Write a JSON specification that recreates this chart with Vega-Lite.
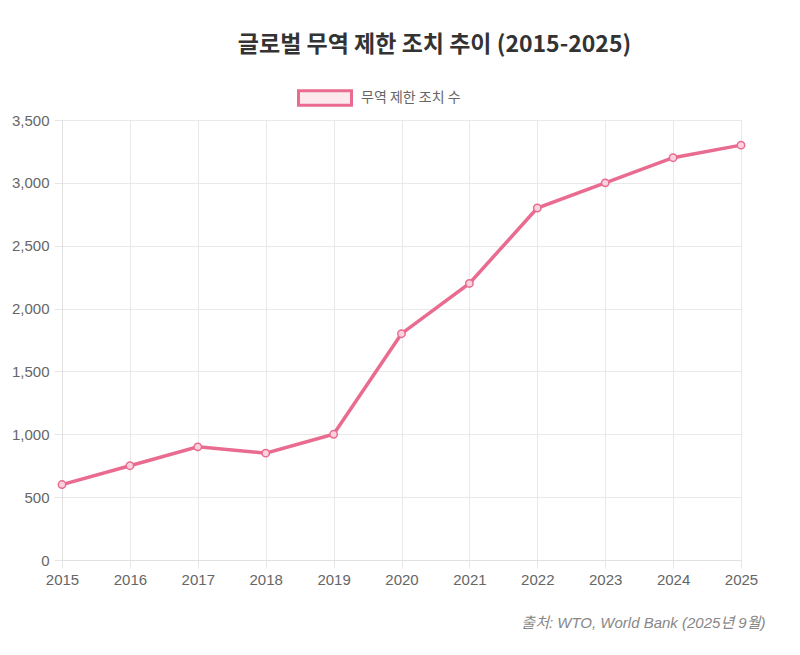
{
  "$schema": "https://vega.github.io/schema/vega-lite/v6.json",
  "autosize": "none",
  "width": 679,
  "height": 440,
  "padding": {"left": 62, "top": 120, "right": 59, "bottom": 95},
  "background": "white",
  "title": {
    "text": "글로벌 무역 제한 조치 추이 (2015-2025)",
    "font": "Noto Sans CJK KR",
    "fontSize": 23,
    "fontWeight": "bold",
    "color": "#333333",
    "anchor": "middle",
    "frame": "group",
    "dx": 33,
    "offset": 13
  },
  "data": {
    "values": [
      {"year": "2015", "count": 600, "series": "무역 제한 조치 수"},
      {"year": "2016", "count": 750, "series": "무역 제한 조치 수"},
      {"year": "2017", "count": 900, "series": "무역 제한 조치 수"},
      {"year": "2018", "count": 850, "series": "무역 제한 조치 수"},
      {"year": "2019", "count": 1000, "series": "무역 제한 조치 수"},
      {"year": "2020", "count": 1800, "series": "무역 제한 조치 수"},
      {"year": "2021", "count": 2200, "series": "무역 제한 조치 수"},
      {"year": "2022", "count": 2800, "series": "무역 제한 조치 수"},
      {"year": "2023", "count": 3000, "series": "무역 제한 조치 수"},
      {"year": "2024", "count": 3200, "series": "무역 제한 조치 수"},
      {"year": "2025", "count": 3300, "series": "무역 제한 조치 수"}
    ]
  },
  "encoding": {
    "x": {
      "field": "year",
      "type": "ordinal",
      "scale": {"type": "point", "padding": 0},
      "axis": {
        "labelAngle": 0,
        "labelFont": "Liberation Sans",
        "labelFontSize": 15,
        "labelColor": "#666666",
        "labelPadding": 4,
        "tickSize": 8,
        "tickColor": "#e6e6e6",
        "domainColor": "#e0e0e0",
        "grid": true,
        "gridColor": "#e9e9e9",
        "title": "출처: WTO, World Bank (2025년 9월)",
        "titleFont": "Liberation Sans, Noto Sans CJK KR",
        "titleFontSize": 15,
        "titleFontStyle": "italic",
        "titleFontWeight": "normal",
        "titleColor": "#888888",
        "titleAlign": "right",
        "titleAnchor": "end",
        "titleBaseline": "alphabetic",
        "titleX": 703,
        "titleY": 67
      }
    },
    "y": {
      "field": "count",
      "type": "quantitative",
      "scale": {"domain": [0, 3500]},
      "axis": {
        "values": [0, 500, 1000, 1500, 2000, 2500, 3000, 3500],
        "format": ",d",
        "title": null,
        "labelFont": "Liberation Sans",
        "labelFontSize": 15,
        "labelColor": "#666666",
        "labelPadding": 5,
        "tickSize": 8,
        "tickColor": "#e6e6e6",
        "domainColor": "#e0e0e0",
        "gridColor": "#e9e9e9"
      }
    },
    "color": {
      "field": "series",
      "type": "nominal",
      "scale": {"range": ["#e96b90"]},
      "legend": {
        "title": null,
        "orient": "none",
        "legendX": 235,
        "legendY": -50,
        "padding": 0,
        "symbolType": "M-1,-0.27H1V0.27H-1Z",
        "symbolSize": 2809,
        "symbolStrokeWidth": 3,
        "labelFont": "Noto Sans CJK KR",
        "labelFontSize": 14,
        "labelColor": "#666666",
        "labelOffset": 8,
        "encode": {
          "symbols": {
            "update": {
              "fill": {"value": "#fde8ee"},
              "stroke": {"value": "#e96b90"},
              "strokeWidth": {"value": 3},
              "opacity": {"value": 1}
            }
          }
        }
      }
    }
  },
  "layer": [
    {
      "mark": {"type": "line", "strokeWidth": 3.5, "interpolate": "linear"}
    },
    {
      "mark": {"type": "point", "filled": false, "size": 55, "strokeWidth": 1.5, "fill": "#f9d2de", "fillOpacity": 1, "opacity": 1}
    }
  ],
  "config": {
    "view": {"stroke": null}
  }
}
